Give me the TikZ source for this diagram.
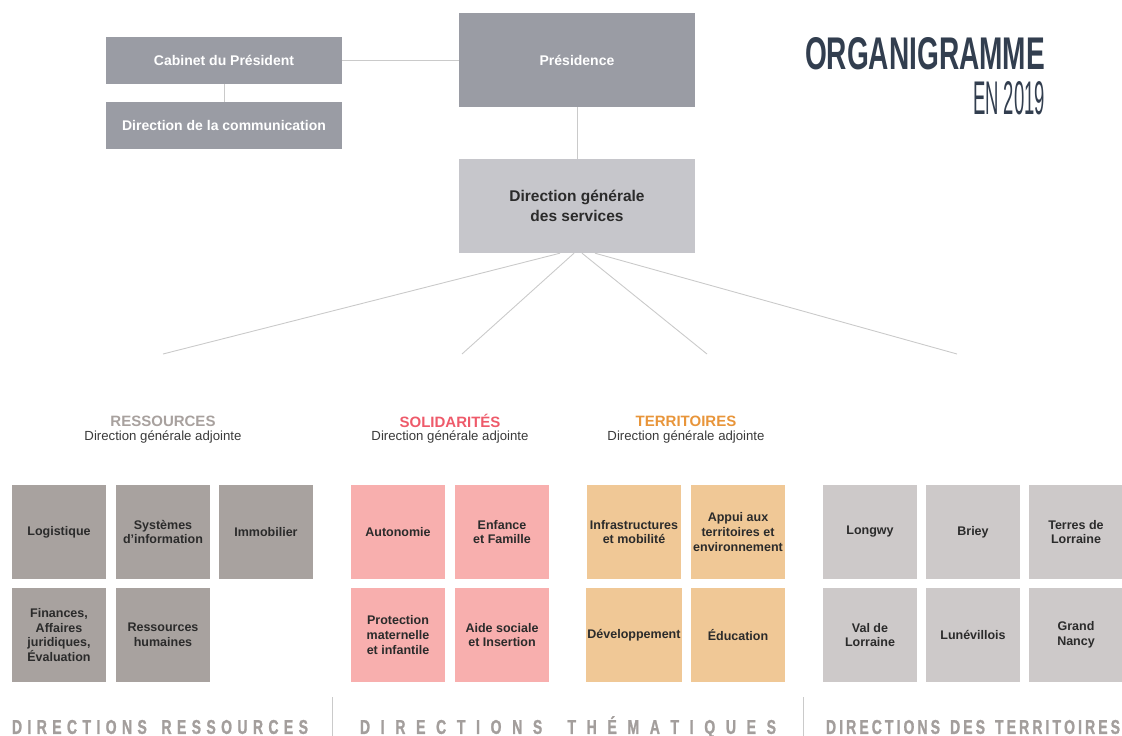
\documentclass[tikz,border=0pt]{standalone}
\usepackage{graphicx}
\usepackage{fontspec}
\setmainfont{Liberation Sans}
\newfontfamily\bandfont[FakeStretch=0.7, FakeBold=1.2]{Liberation Sans Bold}
\usetikzlibrary{positioning}

\definecolor{presgray}{HTML}{9A9CA4}
\definecolor{dgsgray}{HTML}{C6C6CB}
\definecolor{resgray}{HTML}{A8A29F}
\definecolor{solpink}{HTML}{F8AFAE}
\definecolor{terorange}{HTML}{F0C896}
\definecolor{locgray}{HTML}{CDC9C9}
\definecolor{inkdark}{HTML}{2B2B2B}
\definecolor{inkgray}{HTML}{3A3A3A}
\definecolor{linegray}{HTML}{CACACA}
\definecolor{navy}{HTML}{323E4F}
\definecolor{resink}{HTML}{A8A19E}
\definecolor{solink}{HTML}{EE5A6A}
\definecolor{terink}{HTML}{E8953A}
\definecolor{bandgray}{HTML}{A39E9C}

% letters spread over a given width
\def\spacedaux#1{\ifx#1\relax\else\hfil#1\expandafter\spacedaux\fi}
\def\spacedfirst#1{#1\spacedaux}
\newcommand\spaced[2]{\makebox[#1][s]{\spacedfirst#2\relax}}

\tikzset{headbox/.style={rectangle, fill=presgray, text=white, inner sep=0pt, minimum width=236pt, align=center, font=\bfseries\fontsize{14}{16}\selectfont}}
\tikzset{unit/.style={rectangle, inner sep=1pt, minimum size=94pt, align=center, text=inkdark, font=\bfseries\fontsize{12.5}{14.7}\selectfont}}
\tikzset{grouptitle/.style={inner sep=0pt, font=\bfseries\fontsize{15}{17}\selectfont}}
\tikzset{groupsub/.style={inner sep=0pt, text=inkgray, font=\fontsize{13.2}{15}\selectfont}}
\tikzset{band/.style={inner sep=0pt, text=bandgray, font=\bandfont\fontsize{20}{21}\selectfont}}
\tikzset{link/.style={draw=linegray, line width=0.9pt}}
\tikzset{node distance=1mm}

\begin{document}
\begin{tikzpicture}[x=1pt, y=-1pt]
    \useasboundingbox (0,0) rectangle (1122,736);

    % tete
    \node[headbox, minimum height=47pt] (cab) at (224,60) {Cabinet du Président};
    \node[headbox, minimum height=47pt] (com) at (224,125.5) {Direction de la communication};
    \node[headbox, minimum height=94pt] (pres) at (577,60) {Présidence};
    \node[headbox, minimum height=94pt, fill=dgsgray, text=inkdark, font=\bfseries\fontsize{15.5}{20}\selectfont] (dgs) at (577,206) {Direction générale\\des services};

    \node[inner sep=0pt, text=navy] (title) at (925,54) {\resizebox{240pt}{32pt}{\bfseries ORGANIGRAMME}};
    \node[inner sep=0pt, text=navy] (year) at (1009,98.5) {\resizebox{72pt}{33pt}{EN 2019}};

    \draw[link] (cab) -- (pres);
    \draw[link] (cab) -- (com);
    \draw[link] (pres) -- (dgs);

    % branches
    \coordinate (brRes) at (163,354);
    \coordinate (brSol) at (462,354);
    \coordinate (brTer) at (707,354);
    \coordinate (brLoc) at (957,354);
    \draw[link] ([xshift=-17pt]dgs.south) -- (brRes);
    \draw[link] ([xshift=-3pt]dgs.south) -- (brSol);
    \draw[link] ([xshift=5pt]dgs.south) -- (brTer);
    \draw[link] ([xshift=18pt]dgs.south) -- (brLoc);

    % directions generales adjointes
    \node[grouptitle, text=resink] (resTitle) at (163,421) {RESSOURCES};
    \node[groupsub] (resSub) at (163,437) {Direction générale adjointe};
    \node[grouptitle, text=solink] (solTitle) at (450,421) {SOLIDARITÉS};
    \node[groupsub] (solSub) at (450,437) {Direction générale adjointe};
    \node[grouptitle, text=terink] (terTitle) at (686,421) {TERRITOIRES};
    \node[groupsub] (terSub) at (686,437) {Direction générale adjointe};

    % ressources
    \node[unit, fill=resgray] (logi) at (59,532) {Logistique};
    \node[unit, fill=resgray] (sysi) at (163,532) {Systèmes\\d’information};
    \node[unit, fill=resgray] (immo) at (266,532) {Immobilier};
    \node[unit, fill=resgray] (fina) at (59,635) {Finances,\\Affaires\\juridiques,\\Évaluation};
    \node[unit, fill=resgray] (rhum) at (163,635) {Ressources\\humaines};

    % solidarites
    \node[unit, fill=solpink] (auto) at (398,532) {Autonomie};
    \node[unit, fill=solpink] (enfa) at (502,532) {Enfance\\et Famille};
    \node[unit, fill=solpink] (pmi) at (398,635) {Protection\\maternelle\\et infantile};
    \node[unit, fill=solpink] (aide) at (502,635) {Aide sociale\\et Insertion};

    % territoires
    \node[unit, fill=terorange] (infra) at (634,532) {Infrastructures\\et mobilité};
    \node[unit, fill=terorange] (appui) at (738,532) {Appui aux\\territoires et\\environnement};
    \node[unit, fill=terorange] (dev) at (634,635) {Développement};
    \node[unit, fill=terorange] (educ) at (738,635) {Éducation};

    % directions des territoires
    \node[unit, fill=locgray] (longwy) at (870,532) {Longwy};
    \node[unit, fill=locgray] (briey) at (973,532) {Briey};
    \node[unit, fill=locgray] (terres) at (1076,532) {Terres de\\Lorraine};
    \node[unit, fill=locgray] (valde) at (870,635) {Val de\\Lorraine};
    \node[unit, fill=locgray] (lune) at (973,635) {Lunévillois};
    \node[unit, fill=locgray] (nancy) at (1076,635) {Grand\\Nancy};

    % bandeau
    \draw[link] (332,697) -- (332,736);
    \draw[link] (803,697) -- (803,736);
    \node[band] (bandRes) at (160,727) {\spaced{296pt}{DIRECTIONS~RESSOURCES}};
    \node[band] (bandThe) at (568,727) {\spaced{416pt}{DIRECTIONS~THÉMATIQUES}};
    \node[band] (bandTer) at (973,727) {\spaced{294pt}{DIRECTIONS~DES~TERRITOIRES}};
\end{tikzpicture}
\end{document}
